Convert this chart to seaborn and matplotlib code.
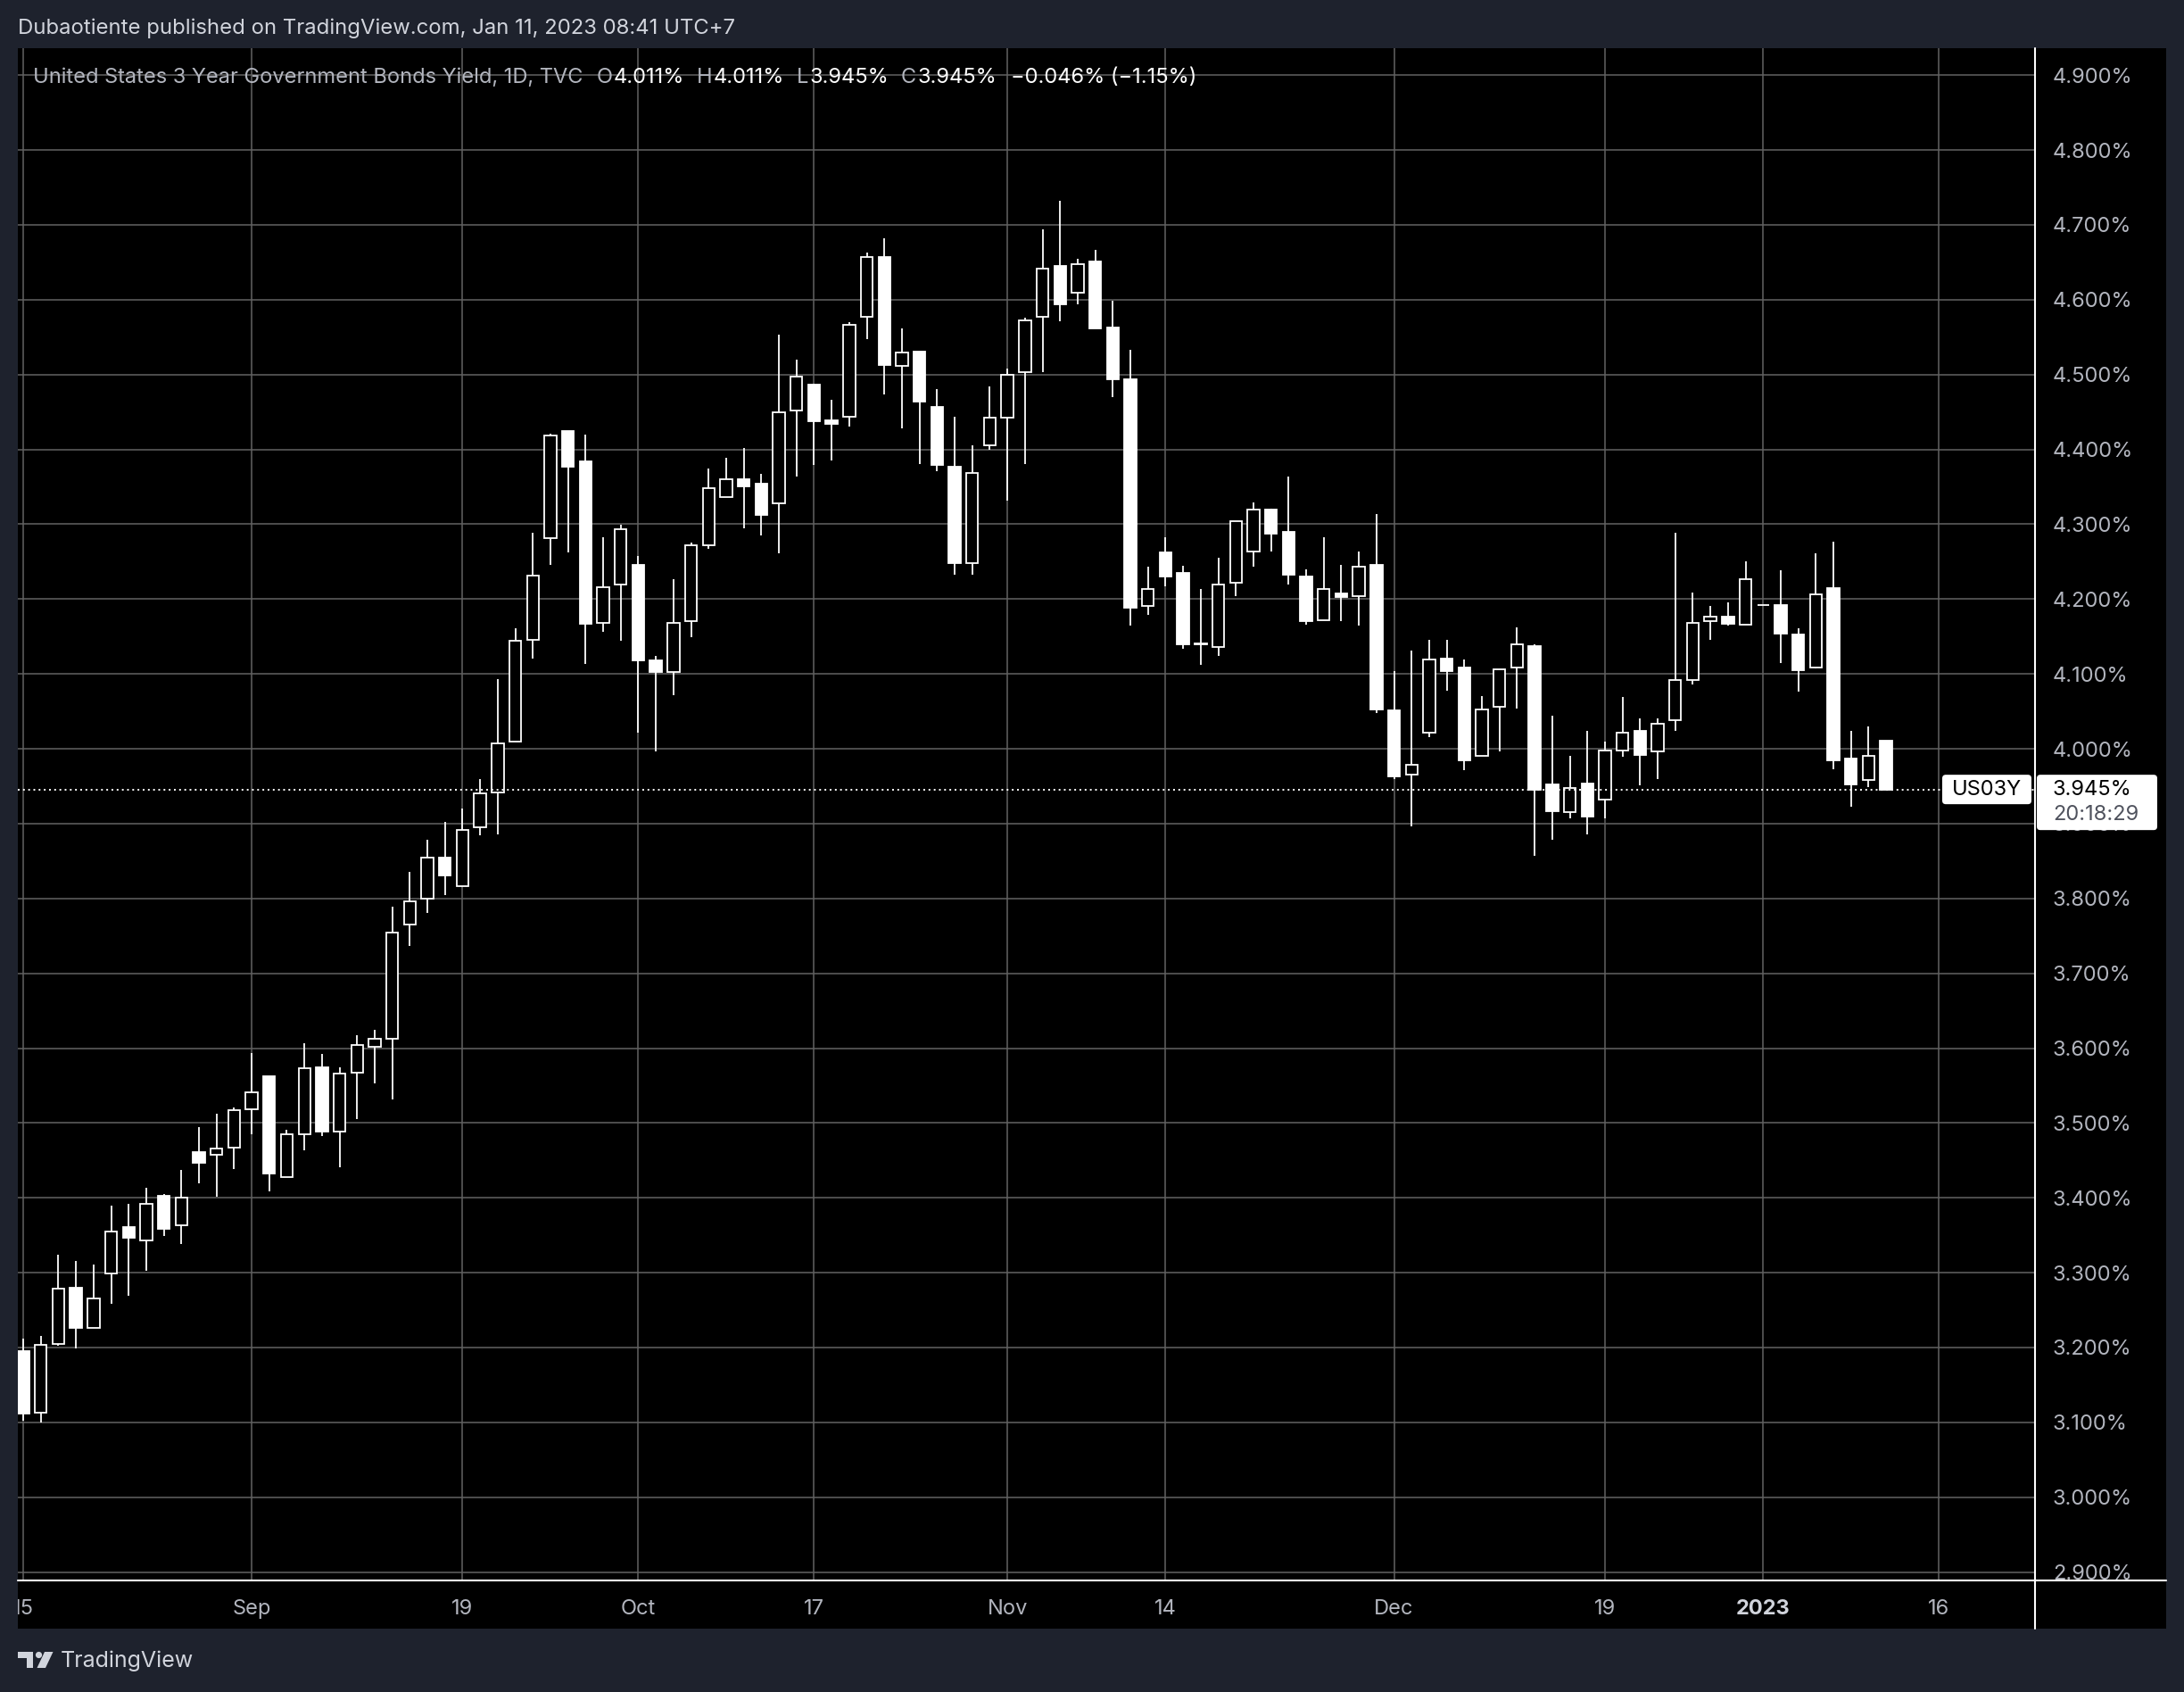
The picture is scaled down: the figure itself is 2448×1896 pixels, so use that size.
import numpy as np
import pandas as pd
import matplotlib.pyplot as plt
import seaborn as sns
from matplotlib.patches import Rectangle, FancyBboxPatch, Polygon, Circle
from matplotlib.lines import Line2D
from matplotlib.transforms import Bbox, IdentityTransform

# US03Y daily candles (TVC), yield in %, Aug 15 2022 -> Jan 11 2023
opens = [3.195, 3.113, 3.205, 3.280, 3.226, 3.299, 3.361, 3.343, 3.403, 3.363,
         3.461, 3.458, 3.467, 3.518, 3.563, 3.428, 3.485, 3.574, 3.489, 3.567,
         3.602, 3.613, 3.765, 3.800, 3.855, 3.817, 3.895, 3.942, 4.010, 4.145,
         4.281, 4.425, 4.384, 4.168, 4.220, 4.246, 4.118, 4.102, 4.171, 4.272,
         4.336, 4.360, 4.354, 4.328, 4.452, 4.486, 4.439, 4.443, 4.577, 4.657,
         4.511, 4.531, 4.457, 4.377, 4.248, 4.406, 4.442, 4.503, 4.577, 4.645,
         4.609, 4.651, 4.563, 4.494, 4.191, 4.262, 4.235, 4.141, 4.136, 4.222,
         4.263, 4.319, 4.290, 4.230, 4.172, 4.208, 4.204, 4.246, 4.051, 3.965,
         4.021, 4.121, 4.109, 3.991, 4.056, 4.108, 4.137, 3.952, 3.915, 3.954,
         3.932, 3.998, 4.024, 3.996, 4.038, 4.092, 4.170, 4.177, 4.166, 4.192,
         4.192, 4.153, 4.108, 4.215, 3.987, 3.958, 4.011]
highs = [3.212, 3.216, 3.324, 3.316, 3.311, 3.389, 3.392, 3.413, 3.405, 3.437,
         3.494, 3.512, 3.521, 3.594, 3.563, 3.491, 3.606, 3.592, 3.574, 3.617,
         3.625, 3.789, 3.836, 3.879, 3.902, 3.920, 3.959, 4.093, 4.161, 4.289,
         4.421, 4.425, 4.420, 4.283, 4.299, 4.258, 4.124, 4.227, 4.275, 4.375,
         4.389, 4.402, 4.367, 4.553, 4.520, 4.488, 4.466, 4.570, 4.663, 4.682,
         4.562, 4.531, 4.480, 4.443, 4.406, 4.484, 4.508, 4.576, 4.694, 4.732,
         4.655, 4.667, 4.599, 4.533, 4.243, 4.283, 4.245, 4.214, 4.255, 4.304,
         4.329, 4.321, 4.364, 4.240, 4.283, 4.246, 4.264, 4.314, 4.104, 4.131,
         4.146, 4.146, 4.119, 4.070, 4.106, 4.162, 4.139, 4.044, 3.991, 4.024,
         4.009, 4.069, 4.041, 4.041, 4.288, 4.209, 4.191, 4.195, 4.250, 4.192,
         4.239, 4.161, 4.261, 4.277, 4.024, 4.030, 4.011]
lows = [3.102, 3.100, 3.202, 3.199, 3.226, 3.258, 3.269, 3.303, 3.349, 3.338,
        3.419, 3.402, 3.439, 3.485, 3.409, 3.428, 3.463, 3.483, 3.441, 3.505,
        3.553, 3.532, 3.737, 3.781, 3.805, 3.817, 3.884, 3.886, 4.009, 4.120,
        4.246, 4.262, 4.113, 4.156, 4.144, 4.021, 3.997, 4.072, 4.149, 4.267,
        4.336, 4.294, 4.285, 4.261, 4.364, 4.379, 4.385, 4.430, 4.547, 4.473,
        4.428, 4.380, 4.371, 4.232, 4.232, 4.400, 4.332, 4.380, 4.503, 4.571,
        4.594, 4.562, 4.470, 4.165, 4.179, 4.217, 4.134, 4.112, 4.124, 4.204,
        4.243, 4.263, 4.220, 4.166, 4.172, 4.171, 4.165, 4.048, 3.960, 3.896,
        4.016, 4.078, 3.972, 3.990, 3.996, 4.054, 3.857, 3.879, 3.907, 3.885,
        3.907, 3.989, 3.951, 3.960, 4.024, 4.086, 4.146, 4.164, 4.166, 4.192,
        4.115, 4.076, 4.107, 3.973, 3.922, 3.949, 3.945]
closes = [3.112, 3.204, 3.279, 3.226, 3.265, 3.355, 3.347, 3.392, 3.359, 3.400,
          3.447, 3.466, 3.517, 3.541, 3.433, 3.485, 3.573, 3.488, 3.566, 3.604,
          3.612, 3.755, 3.796, 3.855, 3.831, 3.891, 3.941, 4.007, 4.144, 4.231,
          4.418, 4.377, 4.167, 4.216, 4.293, 4.118, 4.102, 4.168, 4.272, 4.348,
          4.360, 4.351, 4.313, 4.449, 4.497, 4.438, 4.434, 4.566, 4.657, 4.513,
          4.530, 4.464, 4.379, 4.248, 4.368, 4.442, 4.500, 4.572, 4.641, 4.594,
          4.648, 4.562, 4.494, 4.188, 4.213, 4.230, 4.139, 4.139, 4.219, 4.304,
          4.320, 4.287, 4.233, 4.171, 4.214, 4.203, 4.243, 4.053, 3.963, 3.978,
          4.119, 4.104, 3.985, 4.052, 4.106, 4.139, 3.945, 3.917, 3.948, 3.909,
          3.998, 4.021, 3.992, 4.034, 4.092, 4.168, 4.177, 4.167, 4.226, 4.192,
          4.154, 4.105, 4.206, 3.984, 3.952, 3.991, 3.945]

# bar slots on the time scale (no bar on Dec 26), running into the future to Jan 16
sessions = pd.bdate_range("2022-08-15", "2023-01-16")
sessions = sessions[sessions != pd.Timestamp("2022-12-26")]

tick_dates = ["2022-08-15", "2022-09-01", "2022-09-19", "2022-10-03", "2022-10-17",
              "2022-11-01", "2022-11-14", "2022-12-01", "2022-12-19", "2023-01-02",
              "2023-01-16"]
tick_labels = ["15", "Sep", "19", "Oct", "17", "Nov", "14", "Dec", "19", "2023", "16"]
price_levels = np.round(np.arange(2.9, 4.95, 0.1), 1)

symbol = "US03Y"
title = "United States 3 Year Government Bonds Yield, 1D, TVC"
publisher = "Dubaotiente published on TradingView.com, Jan 11, 2023 08:41 UTC+7"
countdown = "20:18:29"

BG = "#1e222d"
GRID = "#626262"
GRAY = "#b2b5be"
LIGHT = "#d1d4dc"
W, H = 2448, 1896
FS = 17

sns.set_theme(style="dark", rc={"axes.facecolor": "black", "figure.facecolor": BG})
plt.rcParams["font.family"] = ["Inter", "DejaVu Sans"]

fig = plt.figure(figsize=(W / 100, H / 100), dpi=100, facecolor=BG)
px = IdentityTransform()


def top(y):
    # pixel rows are measured from the top in the reference
    return H - y


# black chart panel (plot + price scale + time scale)
fig.add_artist(Rectangle((20, top(1825)), 2408, 1771, transform=px,
                         facecolor="black", edgecolor="none", zorder=-5))

ax = fig.add_axes([20 / W, 1 - 1770 / H, 2261 / W, 1716 / H])
ax.set_facecolor("black")

o, h, l, c = map(np.array, (opens, highs, lows, closes))
x = np.arange(len(o))
up = c >= o

ax.vlines(x, l, h, colors="white", lw=1.3, zorder=2)
ax.bar(x[up], c[up] - o[up], bottom=o[up], width=0.68, color="black",
       edgecolor="white", lw=1.3, zorder=3)
ax.bar(x[~up], o[~up] - c[~up], bottom=c[~up], width=0.68, color="white",
       edgecolor="white", lw=1.3, zorder=3)

tick_pos = [sessions.get_loc(pd.Timestamp(d)) for d in tick_dates]
ax.set_xticks(tick_pos, tick_labels)
ax.set_yticks(price_levels, [f"{v:.3f}%" for v in price_levels])
ax.yaxis.tick_right()
ax.grid(True, color=GRID, lw=1.1)
ax.set_axisbelow(True)
ax.tick_params(axis="y", length=0, pad=14.4, labelsize=FS, labelcolor=GRAY)
ax.tick_params(axis="x", length=0, pad=23.5, labelsize=FS, labelcolor=GRAY)
for s in ax.spines.values():
    s.set_visible(False)

ax.set_xlim(-0.305, 114.47)
ax.set_ylim(2.890, 4.936)

for lab in ax.get_xticklabels():
    lab.set_va("center")
    lab.set_clip_on(True)
    lab.set_clip_box(Bbox([[20, 0], [W, H]]))
    if lab.get_text() == "2023":
        lab.set_fontweight("bold")
        lab.set_color(LIGHT)

# last price line
ax.axhline(c[-1], color="white", lw=1.4, ls=(0, (1, 2)), zorder=4)

# scale borders
fig.add_artist(Line2D([2281, 2281], [top(1825), top(54)], transform=px,
                      color="white", lw=1.5, zorder=4))
fig.add_artist(Rectangle((2282, top(1825)), 146, 55, transform=px,
                         facecolor="black", edgecolor="none", zorder=3))
fig.add_artist(Line2D([20, 2428], [top(1771), top(1771)], transform=px,
                      color="white", lw=1.5, zorder=4))

# last price labels
Y = ax.transData.transform((0, c[-1]))[1]
fig.add_artist(FancyBboxPatch((2177, Y - 16), 100, 33, transform=px,
                              boxstyle="round,pad=0,rounding_size=4",
                              facecolor="white", edgecolor="none", zorder=5))
fig.text(2227, Y, symbol, transform=px, ha="center", va="center",
         color="black", fontsize=FS, zorder=6)
fig.add_artist(FancyBboxPatch((2283, Y - 45), 135, 62, transform=px,
                              boxstyle="round,pad=0,rounding_size=4",
                              facecolor="white", edgecolor="none", zorder=5))
fig.text(2301, Y, f"{c[-1]:.3f}%", transform=px, ha="left", va="center",
         color="black", fontsize=FS, zorder=6)
fig.text(2301, Y - 28, countdown, transform=px, ha="left", va="center",
         color="#50535e", fontsize=FS, zorder=6)

# legend line with OHLC of the last bar
chg = c[-1] - c[-2]
pieces = [("O", GRAY, 15), (f"{o[-1]:.3f}%", "white", 1),
          ("H", GRAY, 14), (f"{h[-1]:.3f}%", "white", 1),
          ("L", GRAY, 14), (f"{l[-1]:.3f}%", "white", 1),
          ("C", GRAY, 14), (f"{c[-1]:.3f}%", "white", 1),
          (f"{chg:.3f}% ({chg / c[-2] * 100:.2f}%)".replace("-", "\u2212"), "white", 16)]
prev = ax.text(37, top(93), title, transform=px, ha="left", va="baseline",
               color=GRAY, fontsize=FS, zorder=6)
for s, col, gap in pieces:
    prev = ax.annotate(s, xy=(1, 0), xycoords=prev, xytext=(gap, 0),
                       textcoords="offset pixels", ha="left", va="bottom",
                       color=col, fontsize=FS, zorder=6, annotation_clip=False)

# snapshot header / footer
fig.text(20, top(32), publisher, transform=px, ha="left", va="center",
         color=LIGHT, fontsize=17.2)
logo = dict(transform=px, facecolor=LIGHT, edgecolor="none")
fig.add_artist(Polygon([(20, top(1851)), (37, top(1851)), (37, top(1869)),
                        (29.5, top(1869)), (29.5, top(1858)), (20, top(1858))], **logo))
fig.add_artist(Circle((43.5, top(1854.5)), 3.6, **logo))
fig.add_artist(Polygon([(50, top(1851)), (59.5, top(1851)), (51, top(1869)),
                        (41.5, top(1869))], **logo))
fig.text(68, top(1861), "TradingView", transform=px, ha="left", va="center",
         color=LIGHT, fontsize=18)

fig.savefig("out.png", dpi=100)
